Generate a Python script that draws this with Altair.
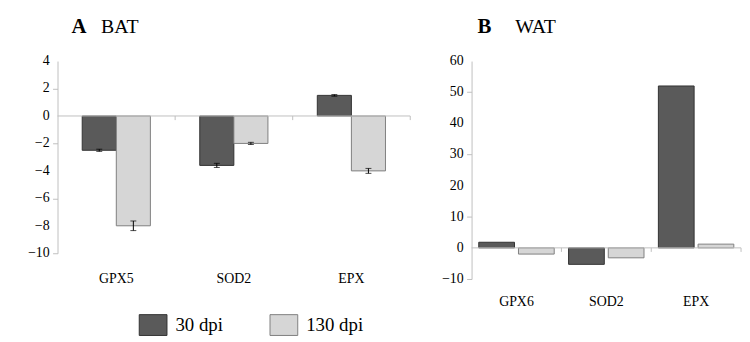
import altair as alt
import pandas as pd

# ---- data ----
genes_a = ["GPX5", "SOD2", "EPX"]
genes_b = ["GPX6", "SOD2", "EPX"]
series = ["30 dpi", "130 dpi"]
bat_30 = [-2.5, -3.6, 1.5]
bat_130 = [-8.0, -2.0, -4.0]
bat_err_30 = [0.08, 0.15, 0.06]
bat_err_130 = [0.35, 0.08, 0.18]
wat_30 = [1.8, -5.3, 52.0]
wat_130 = [-2.0, -3.2, 1.2]
ticks_a = [4, 2, 0, -2, -4, -6, -8, -10]
ticks_b = [60, 50, 40, 30, 20, 10, 0, -10]

FONT = "Liberation Serif"
DARK, LIGHT = "#5a5a5a", "#d6d6d6"
DARK_S, LIGHT_S = "#333333", "#808080"
AX = "#bfbfbf"


def frame(genes, v30, v130, e30=None, e130=None):
    rows = []
    for i, g in enumerate(genes):
        for s, vals, errs in ((series[0], v30, e30), (series[1], v130, e130)):
            e = errs[i] if errs else 0
            rows.append({"gene": g, "series": s, "value": vals[i],
                         "lo": vals[i] - e, "hi": vals[i] + e})
    return pd.DataFrame(rows)


legend = alt.Legend(
    orient="none", legendX=82, legendY=252, direction="horizontal", title=None,
    symbolType="M-1,-0.75H1V0.75H-1Z", symbolSize=784, symbolStrokeWidth=1,
    labelFont=FONT, labelFontSize=19, labelColor="black", labelOffset=8,
    columnPadding=44,
)


def panel(df, genes, ydom, yticks, width, height, xscale, offpad, label_pad,
          letter, word, letter_x, word_x, div_off, tick_len, errors):
    yscale = alt.Scale(domain=ydom, nice=False, zero=False)
    xaxis = alt.Axis(title=None, domain=False, ticks=False, labelPadding=label_pad,
                     labelAngle=0, labelFont=FONT, labelFontSize=14, labelColor="black")
    yaxis = alt.Axis(values=yticks, title=None, grid=False, tickSize=5, labels=False,
                     domainColor=AX, tickColor=AX)
    xoff = alt.XOffset("series:N", sort=series, scale=alt.Scale(paddingInner=offpad, paddingOuter=0))
    xe = alt.X("gene:N", sort=genes, scale=xscale, axis=xaxis)

    bars = alt.Chart(df).mark_bar(strokeWidth=1).encode(
        x=xe,
        y=alt.Y("value:Q", scale=yscale, axis=yaxis),
        xOffset=xoff,
        color=alt.Color("series:N", sort=series,
                        scale=alt.Scale(domain=series, range=[DARK, LIGHT]), legend=legend),
        stroke=alt.Stroke("series:N", sort=series,
                          scale=alt.Scale(domain=series, range=[DARK_S, LIGHT_S]), legend=legend),
    )
    zero = alt.Chart(pd.DataFrame({"value": [0]})).mark_rule(color=AX).encode(
        y=alt.Y("value:Q", scale=yscale, axis=yaxis))
    # y tick labels drawn as text from the tick list
    ylabels = alt.Chart(pd.DataFrame({"value": yticks})).mark_text(
        align="right", baseline="middle", font=FONT, fontSize=14, color="black").encode(
        y=alt.Y("value:Q", scale=yscale, axis=yaxis), text=alt.Text("value:Q", format="d"),
        x=alt.value(-8))
    div = alt.Chart(pd.DataFrame({"gene": genes})).mark_rule(
        color=AX, xOffset=div_off).encode(
        x=alt.X("gene:N", sort=genes, scale=xscale, bandPosition=1, axis=xaxis),
        y=alt.datum(0), y2=alt.datum(tick_len))
    t1 = alt.Chart(pd.DataFrame({"t": [letter]})).mark_text(
        align="left", baseline="middle", font=FONT, fontSize=21, fontWeight="bold",
        color="black").encode(text="t:N", x=alt.value(letter_x), y=alt.value(-34))
    t2 = alt.Chart(pd.DataFrame({"t": [word]})).mark_text(
        align="left", baseline="middle", font=FONT, fontSize=20, fontWeight="normal",
        color="black").encode(text="t:N", x=alt.value(word_x), y=alt.value(-34))
    layers = [bars, zero, div, ylabels]
    if errors:
        rule = alt.Chart(df).mark_rule(color="black", strokeWidth=1).encode(
            x=xe, xOffset=xoff, y=alt.Y("lo:Q", scale=yscale, axis=yaxis), y2="hi:Q")
        cap_lo = alt.Chart(df).mark_tick(color="black", size=6, thickness=1).encode(
            x=xe, xOffset=xoff, y=alt.Y("lo:Q", scale=yscale, axis=yaxis))
        cap_hi = alt.Chart(df).mark_tick(color="black", size=6, thickness=1).encode(
            x=xe, xOffset=xoff, y=alt.Y("hi:Q", scale=yscale, axis=yaxis))
        layers += [rule, cap_lo, cap_hi]
    layers += [t1, t2]
    return alt.layer(*layers).properties(width=width, height=height)


df_a = frame(genes_a, bat_30, bat_130, bat_err_30, bat_err_130)
df_b = frame(genes_b, wat_30, wat_130)

pa = panel(df_a, genes_a, [-10, 4], ticks_a, 356, 194,
           alt.Scale(paddingInner=0.42, paddingOuter=0.21), 0.0, 19,
           "A", "BAT", 14, 44, 25, -0.3, True)
pb = panel(df_b, genes_b, [-10, 60], ticks_b, 272, 220,
           alt.Scale(paddingInner=0.16, paddingOuter=0.08), 0.1, 16,
           "B", "WAT", 6, 44, 7.3, -1.3, False)

chart = alt.hconcat(pa, pb, spacing=31).resolve_scale(
    x="independent", y="independent", xOffset="independent", color="shared", stroke="shared"
).properties(
    padding={"left": 20, "top": 7, "right": 0, "bottom": 0},
    background="white",
).configure_view(stroke=None)

chart.save("out.html", embed_options={"renderer": "svg", "actions": False})
